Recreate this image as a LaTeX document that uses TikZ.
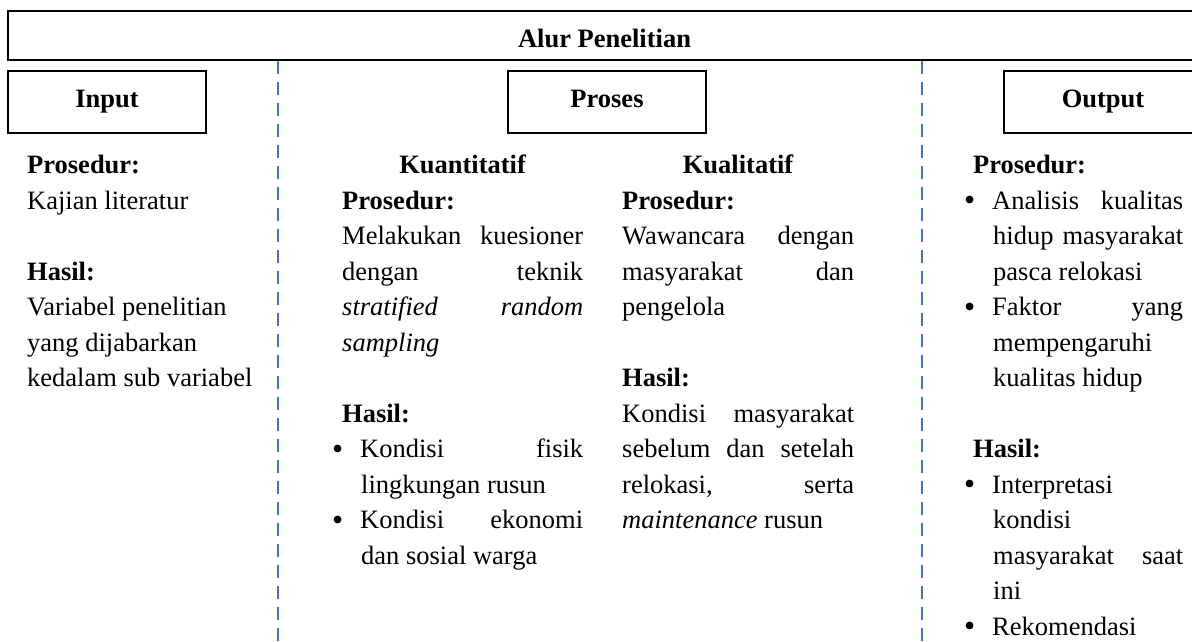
\documentclass[tikz,border=0pt]{standalone}
\usepackage{fontspec}
\setmainfont{Liberation Serif}
\usepackage{graphicx}
\definecolor{sepblue}{RGB}{68,114,196}
\newcommand\lnL[1]{\hbox to\hsize{#1\hfil}}
\newcommand\lnJ[1]{\hbox to\hsize{#1}}
\newcommand\lnC[1]{\hbox to\hsize{\hfil#1\hfil}}
\newcommand\lnE{\hbox{}}
\newcommand\bulmark{\raisebox{-1.5pt}{\scalebox{1.2}{\textbullet}}}
\newcommand\lnB[2]{\hbox to\hsize{\hskip#1\hbox to 28pt{\bulmark\hfil}#2}}
\newcommand\colfont{\fontsize{26.5pt}{35.5pt}\selectfont}
\begin{document}
\begin{tikzpicture}[x=1pt,y=-1pt,font=\colfont,
  frame/.style={draw=black,line width=2pt,inner sep=0pt,text depth=0pt},
  sepline/.style={draw=sepblue,line width=2pt,dash pattern=on 13pt off 8pt},
  col/.style={anchor=base west,inner sep=0pt}]
\useasboundingbox (0,0) rectangle (1192,641);
\clip (0,0) rectangle (1192,641);
\fill[white] (0,0) rectangle (1192,641);
% boxes
\node[frame,minimum width=1193pt,minimum height=49pt,text height=23.4pt] (title) at (604.5,35.5) {\textbf{Alur Penelitian}};
\node[frame,minimum width=198pt,minimum height=62pt,text height=10pt] (input) at (107,102) {\textbf{Input}};
\node[frame,minimum width=198pt,minimum height=62pt,text height=10pt] (proses) at (607,102) {\textbf{Proses}};
\node[frame,minimum width=198pt,minimum height=62pt,text height=10pt] (output) at (1103,102) {\textbf{Output}};
% separators
\coordinate (s1a) at (278,61);
\coordinate (s1b) at (278,660);
\coordinate (s2a) at (922,61);
\coordinate (s2b) at (922,660);
\draw[sepline] (s1a) -- (s1b);
\draw[sepline] (s2a) -- (s2b);
% column 1
\node[col] (c1) at (27,173.5) {\colfont\vtop{\hsize=250pt
  \lnL{\textbf{Prosedur:}}
  \lnL{Kajian literatur}
  \lnE
  \lnL{\textbf{Hasil:}}
  \lnL{Variabel penelitian}
  \lnL{yang dijabarkan}
  \lnL{kedalam sub variabel}}};
% column 2
\node[col] (c2) at (342,173.5) {\colfont\vtop{\hsize=241pt
  \lnC{\textbf{Kuantitatif}}
  \lnL{\textbf{Prosedur:}}
  \lnJ{Melakukan\hfill kuesioner}
  \lnJ{dengan\hfill teknik}
  \lnJ{\textit{stratified}\hfill\textit{random}}
  \lnL{\textit{sampling}}
  \lnE
  \lnL{\textbf{Hasil:}}
  \lnB{-10pt}{Kondisi\hfill fisik}
  \lnL{\hskip19pt lingkungan rusun}
  \lnB{-10pt}{Kondisi\hfill ekonomi}
  \lnL{\hskip19pt dan sosial warga}}};
% column 3
\node[col] (c3) at (622,173.5) {\colfont\vtop{\hsize=232pt
  \lnC{\textbf{Kualitatif}}
  \lnL{\textbf{Prosedur:}}
  \lnJ{Wawancara\hfill dengan}
  \lnJ{masyarakat\hfill dan}
  \lnL{pengelola}
  \lnE
  \lnL{\textbf{Hasil:}}
  \lnJ{Kondisi\hfill masyarakat}
  \lnJ{sebelum\hfill dan\hfill setelah}
  \lnJ{relokasi,\hfill serta}
  \lnL{\textit{maintenance} rusun}}};
% column 4
\node[col] (c4) at (973,173.5) {\colfont\vtop{\hsize=210pt
  \lnL{\textbf{Prosedur:}}
  \lnB{-9pt}{Analisis\hfill kualitas}
  \lnJ{\hskip20pt hidup\hfill masyarakat}
  \lnL{\hskip20pt pasca relokasi}
  \lnB{-9pt}{Faktor\hfill yang}
  \lnL{\hskip20pt mempengaruhi}
  \lnL{\hskip20pt kualitas hidup}
  \lnE
  \lnL{\textbf{Hasil:}}
  \lnB{-9pt}{Interpretasi\hfil}
  \lnL{\hskip20pt kondisi}
  \lnJ{\hskip20pt masyarakat\hfill saat}
  \lnL{\hskip20pt ini}
  \lnB{-9pt}{Rekomendasi\hfil}}};
\end{tikzpicture}
\end{document}
